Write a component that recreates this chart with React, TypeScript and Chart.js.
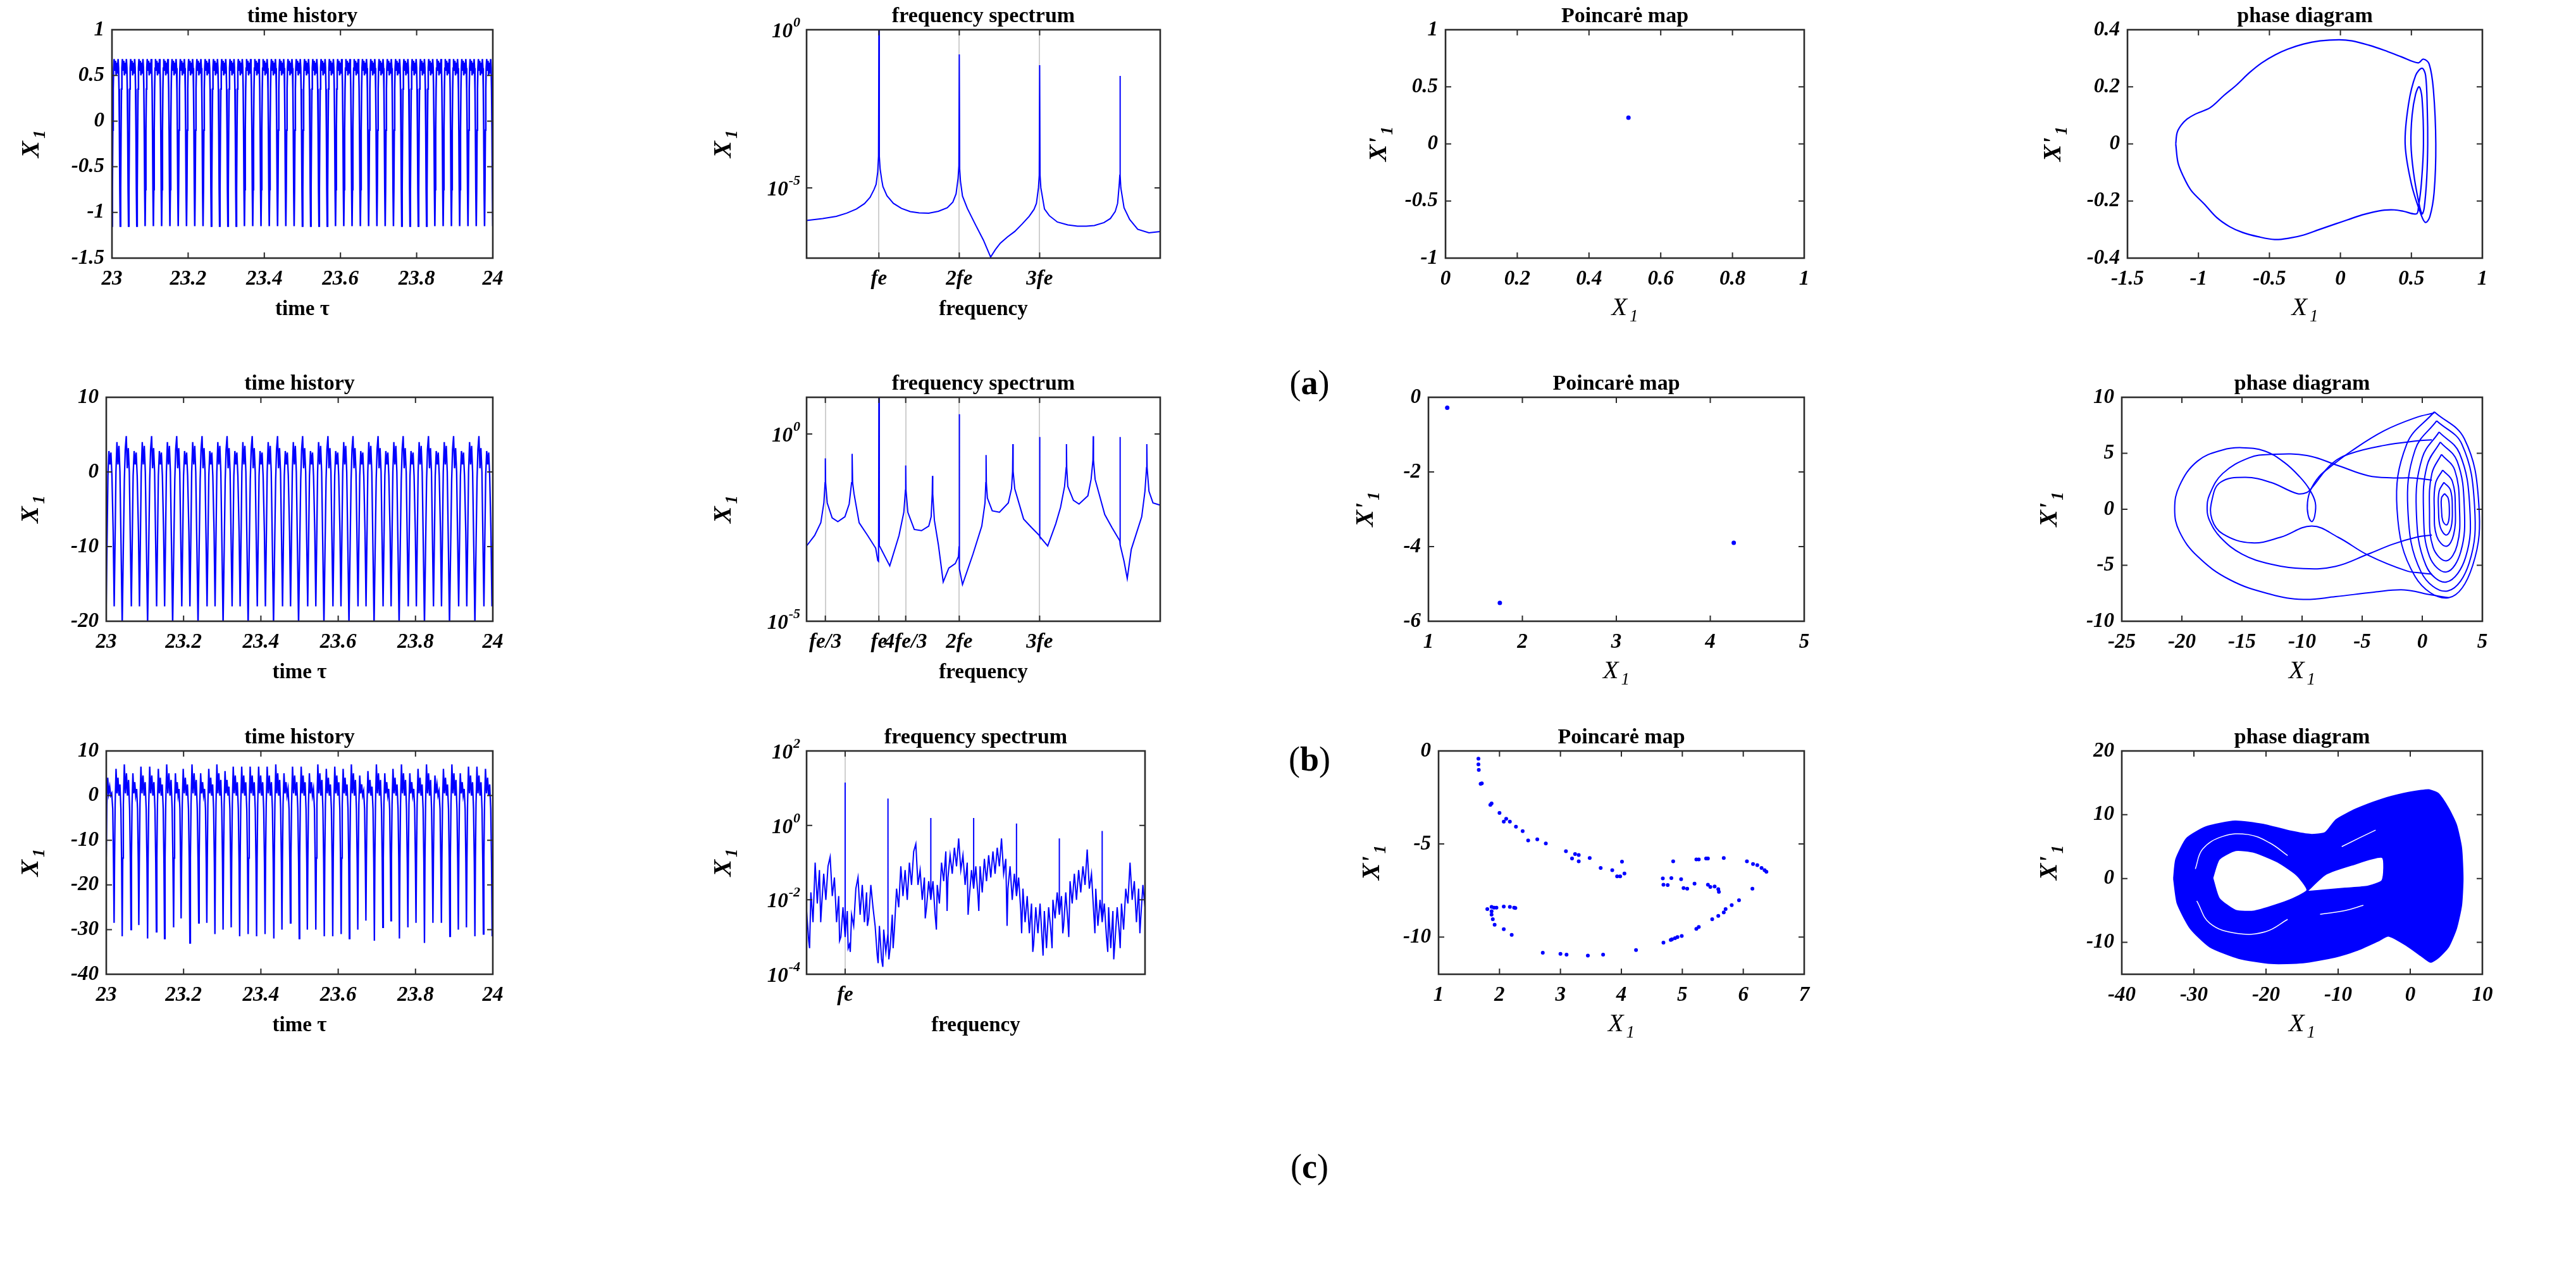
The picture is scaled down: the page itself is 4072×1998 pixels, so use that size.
import React, { useEffect, useRef } from "react";
import { Chart, registerables } from "chart.js";

Chart.register(...registerables);

const BLUE = "#0000ff";
const SERIF = '"Liberation Serif", "Times New Roman", Times, serif';
const AXIS_COLOR = "#2b2b2b";

/* ===================== shared ticks ===================== */
const timeTicks = [23, 23.2, 23.4, 23.6, 23.8, 24];
const timeTickLabels = ["23", "23.2", "23.4", "23.6", "23.8", "24"];

/* ===================== (a) time history ===================== */
const thATroughTimes = [23.0, 23.0217, 23.0435, 23.0652, 23.087, 23.1087, 23.1304, 23.1522, 23.1739, 23.1957, 23.2174, 23.2391, 23.2609, 23.2826, 23.3043, 23.3261, 23.3478, 23.3696, 23.3913, 23.413, 23.4348, 23.4565, 23.4783, 23.5, 23.5217, 23.5435, 23.5652, 23.587, 23.6087, 23.6304, 23.6522, 23.6739, 23.6957, 23.7174, 23.7391, 23.7609, 23.7826, 23.8043, 23.8261, 23.8478, 23.8696, 23.8913, 23.913, 23.9348, 23.9565, 23.9783, 24.0];
const thACycleFrac = [0, 0.05, 0.1, 0.15, 0.2, 0.26, 0.34, 0.42, 0.5, 0.58, 0.66, 0.74, 0.8, 0.85, 0.9, 0.95];
const thACycleVal = [-1.15, -0.75, -0.1, 0.35, 0.58, 0.68, 0.55, 0.66, 0.5, 0.64, 0.52, 0.68, 0.58, 0.35, -0.1, -0.75];

/* ===================== (a) spectrum ===================== */
const specAFreq = [0.1, 0.3, 0.47, 0.6, 0.72, 0.82, 0.89, 0.94, 0.965, 0.985, 0.995, 1.0, 1.005, 1.015, 1.035, 1.05, 1.1, 1.18, 1.28, 1.39, 1.5, 1.62, 1.74, 1.85, 1.92, 1.96, 1.985, 1.995, 2.0, 2.005, 2.015, 2.04, 2.1, 2.2, 2.3, 2.39, 2.45, 2.51, 2.6, 2.69, 2.78, 2.87, 2.93, 2.96, 2.985, 2.995, 3.0, 3.005, 3.015, 3.06, 3.12, 3.22, 3.35, 3.47, 3.58, 3.68, 3.8, 3.88, 3.94, 3.97, 3.99, 3.997, 4.0, 4.003, 4.01, 4.05, 4.12, 4.22, 4.36, 4.5];
const specAExp = [-6.03, -5.97, -5.9, -5.8, -5.67, -5.5, -5.3, -5.05, -4.89, -4.5, -4.0, 0.0, -4.0, -4.4, -4.75, -4.96, -5.25, -5.49, -5.65, -5.75, -5.79, -5.8, -5.74, -5.63, -5.45, -5.19, -4.7, -4.3, -0.78, -4.4, -4.8, -5.26, -5.65, -6.16, -6.65, -7.19, -6.95, -6.75, -6.55, -6.38, -6.15, -5.9, -5.68, -5.49, -5.0, -4.6, -1.12, -4.6, -5.0, -5.67, -5.88, -6.08, -6.17, -6.21, -6.21, -6.19, -6.1, -5.97, -5.75, -5.49, -4.9, -4.6, -1.46, -4.6, -5.0, -5.63, -6.0, -6.31, -6.42, -6.38];

/* ===================== (a) Poincaré ===================== */
const poincA = [[0.51, 0.23]];

/* ===================== (a) phase ===================== */
const phaseA = [
  [-1.16, 0.0], [-1.15, 0.04], [-1.121, 0.066], [-1.08, 0.087], [-1.02, 0.105], [-0.917, 0.127], [-0.82, 0.17], [-0.735, 0.205], [-0.64, 0.25], [-0.554, 0.284], [-0.46, 0.312], [-0.372, 0.332], [-0.26, 0.35], [-0.145, 0.361], [-0.009, 0.365], [0.082, 0.361], [0.2, 0.346], [0.309, 0.328], [0.43, 0.305], [0.547, 0.284],
  [0.585, 0.297], [0.625, 0.28], [0.655, 0.19], [0.672, 0.0], [0.66, -0.17], [0.63, -0.255], [0.6, -0.275], [0.57, -0.25], [0.5, -0.14], [0.456, 0.0], [0.48, 0.14], [0.53, 0.24], [0.575, 0.265],
  [0.6, 0.24], [0.612, 0.12], [0.615, 0.0], [0.608, -0.12], [0.59, -0.225], [0.575, -0.245], [0.55, -0.2], [0.515, -0.1], [0.497, 0.0], [0.505, 0.1], [0.53, 0.175], [0.555, 0.2],
  [0.575, 0.16], [0.585, 0.0], [0.57, -0.14], [0.55, -0.22], [0.536, -0.245],
  [0.445, -0.236], [0.38, -0.231], [0.309, -0.232], [0.22, -0.24], [0.15, -0.249], [0.05, -0.266], [-0.034, -0.28], [-0.15, -0.3], [-0.259, -0.319], [-0.36, -0.33], [-0.463, -0.335], [-0.58, -0.325], [-0.69, -0.31], [-0.78, -0.29], [-0.871, -0.258], [-0.96, -0.21], [-1.053, -0.162], [-1.11, -0.11], [-1.144, -0.066], [-1.16, 0.0],
];

/* ===================== (b) time history ===================== */
const thBGroupStarts = [22.9764, 23.0412, 23.1069, 23.1717, 23.2374, 23.3022, 23.367, 23.4327, 23.4975, 23.5631, 23.6279, 23.6928, 23.7576, 23.8232, 23.888, 23.9537, 24.0185];
const thBGroupFrac = [0, 0.045, 0.085, 0.12, 0.16, 0.2, 0.24, 0.28, 0.32, 0.36, 0.4, 0.43, 0.47, 0.51, 0.55, 0.59, 0.64, 0.68, 0.72, 0.75, 0.79, 0.83, 0.87, 0.91, 0.955];
const thBGroupVal = [-20.5, -10, -1, 3.0, 4.8, 0.5, 3.2, 0.0, -9, -18, -8, -0.5, 2.8, 1.0, 2.6, -0.5, -8, -18, -8, 0.0, 4.0, 1.0, 3.5, 0.0, -10];

/* ===================== (b) spectrum ===================== */
const specBFreq = [0.1, 0.2, 0.277, 0.315, 0.33, 0.3333, 0.337, 0.357, 0.418, 0.489, 0.577, 0.63, 0.66, 0.6667, 0.673, 0.69, 0.754, 0.86, 0.96, 0.986, 0.995, 1.0, 1.005, 1.01, 1.135, 1.25, 1.31, 1.33, 1.3333, 1.337, 1.36, 1.44, 1.53, 1.62, 1.65, 1.663, 1.6667, 1.67, 1.69, 1.74, 1.8, 1.87, 1.95, 1.99, 1.997, 2.0, 2.003, 2.04, 2.17, 2.28, 2.32, 2.33, 2.3333, 2.337, 2.35, 2.41, 2.5, 2.61, 2.65, 2.663, 2.6667, 2.67, 2.69, 2.8, 2.9, 2.997, 3.0, 3.003, 3.1, 3.2, 3.26, 3.31, 3.33, 3.3333, 3.337, 3.35, 3.42, 3.49, 3.6, 3.64, 3.663, 3.6667, 3.67, 3.69, 3.81, 3.9, 3.997, 4.0, 4.003, 4.05, 4.09, 4.14, 4.27, 4.31, 4.33, 4.3333, 4.337, 4.36, 4.41, 4.5];
const specBExp = [-2.99, -2.71, -2.37, -1.84, -1.3, -0.65, -1.3, -1.84, -2.24, -2.34, -2.21, -1.87, -1.3, -0.53, -1.3, -1.59, -2.37, -2.71, -3.05, -3.38, -3.4, 1.0, -2.99, -3.0, -3.52, -2.71, -2.09, -1.5, -0.84, -1.5, -2.09, -2.55, -2.58, -2.46, -2.21, -1.6, -1.12, -1.6, -2.3, -2.96, -3.95, -3.58, -3.46, -3.27, -3.0, 0.53, -3.6, -4.02, -3.21, -2.46, -1.84, -1.3, -0.56, -1.3, -1.71, -2.05, -2.09, -1.84, -1.46, -1.0, -0.27, -1.0, -1.46, -2.27, -2.5, -2.71, -0.08, -2.74, -2.99, -2.4, -1.96, -1.4, -0.9, -0.27, -0.9, -1.4, -1.77, -1.87, -1.65, -1.21, -0.7, -0.06, -0.7, -1.21, -2.15, -2.5, -2.85, -0.08, -2.96, -3.4, -3.86, -3.08, -2.21, -1.53, -0.9, -0.27, -0.9, -1.53, -1.84, -1.9];

/* ===================== (b) Poincaré ===================== */
const poincB = [[1.2, -0.28], [1.76, -5.51], [4.25, -3.9]];

/* ===================== (b) phase ===================== */
const phaseBOuter = [[2.2, -7.9], [0.5, -7.6], [-1.5, -7.2], [-4.0, -7.4], [-7.2, -7.8], [-9.9, -8.05], [-12.6, -7.6], [-16.0, -6.3], [-18.7, -4.2], [-20.2, -2.0], [-20.6, 0.0], [-20.2, 2.1], [-18.7, 4.3], [-16.6, 5.3], [-15.0, 5.5], [-13.1, 5.2], [-11.5, 4.2], [-10.2, 2.9], [-9.4, 1.8], [-8.9, 0.6], [-8.95, -0.6], [-9.2, -1.1], [-9.5, -0.5], [-9.55, 0.6], [-9.3, 1.7], [-8.6, 2.9], [-7.75, 3.7], [-5.9, 5.2], [-3.2, 7.0], [-0.5, 8.2], [1.0, 8.6]];
const phaseBMid = [[0.8, -2.3], [-0.5, -2.5], [-2.4, -3.1], [-4.5, -4.0], [-7.2, -5.1], [-9.9, -5.3], [-12.6, -4.9], [-15.0, -4.0], [-16.8, -2.5], [-17.7, -1.0], [-17.9, 0.0], [-17.7, 1.3], [-16.6, 3.2], [-14.4, 4.6], [-12.6, 4.9], [-9.6, 4.8], [-7.0, 3.9], [-4.5, 3.0], [-2.4, 2.8], [-0.8, 2.8], [0.8, 2.6]];
const phaseBInner = [[0.8, -5.8], [0.0, -5.7], [-1.3, -5.5], [-4.5, -4.1], [-7.0, -2.5], [-9.2, -1.5], [-11.8, -2.5], [-14.2, -3.0], [-16.6, -2.2], [-17.5, -0.9], [-17.5, 0.8], [-16.8, 2.4], [-14.7, 2.85], [-12.6, 2.4], [-10.4, 1.4], [-9.6, 1.5], [-9.2, 1.9], [-7.5, 4.1], [-5.9, 5.0], [-3.2, 5.7], [-0.5, 6.1], [0.8, 6.2]];
const phaseBLoops = [
  [[1.0, 8.7], [3.5, 6.3], [4.7, 0.5], [4.2, -5.0], [2.2, -7.9], [-0.6, -6.0], [-2.1, 0], [-1.3, 5.8], [1.0, 8.7]],
  [[1.2, 7.9], [3.3, 5.8], [4.35, 0.3], [3.9, -4.8], [2.1, -7.3], [-0.1, -5.6], [-1.2, 0], [-0.6, 5.3], [1.2, 7.9]],
  [[1.4, 6.9], [3.1, 5.0], [3.95, 0.2], [3.6, -4.3], [2.0, -6.5], [0.3, -5.0], [-0.5, 0], [0.0, 4.6], [1.4, 6.9]],
  [[1.5, 6.0], [2.9, 4.3], [3.5, 0.1], [3.2, -3.8], [2.0, -5.6], [0.6, -4.2], [0.1, 0], [0.4, 3.9], [1.5, 6.0]],
  [[1.6, 4.9], [2.7, 3.5], [3.1, 0], [2.9, -3.2], [2.0, -4.6], [0.9, -3.4], [0.6, 0], [0.8, 3.2], [1.6, 4.9]],
  [[1.7, 3.5], [2.5, 2.5], [2.75, 0], [2.6, -2.3], [2.0, -3.3], [1.2, -2.4], [1.0, 0], [1.1, 2.3], [1.7, 3.5]],
  [[1.8, 2.4], [2.35, 1.7], [2.5, 0], [2.4, -1.6], [2.0, -2.3], [1.5, -1.6], [1.35, 0], [1.4, 1.6], [1.8, 2.4]],
  [[1.85, 1.4], [2.15, 1.0], [2.25, 0], [2.2, -1.0], [2.0, -1.4], [1.7, -1.0], [1.6, 0], [1.6, 1.0], [1.85, 1.4]],
];

/* ===================== (c) time history ===================== */
const thCTroughTimes = [22.9985, 23.0202, 23.0412, 23.064, 23.0842, 23.1069, 23.1296, 23.1507, 23.1742, 23.1936, 23.2163, 23.2391, 23.2601, 23.2811, 23.3022, 23.3232, 23.3451, 23.367, 23.3889, 23.4108, 23.4335, 23.4545, 23.4764, 23.4992, 23.5202, 23.5421, 23.564, 23.5859, 23.6077, 23.6288, 23.6507, 23.6717, 23.6936, 23.7155, 23.7365, 23.7584, 23.7803, 23.8013, 23.8232, 23.8451, 23.867, 23.8889, 23.9108, 23.9318, 23.9537, 23.9756, 23.9983];
const thCTroughVals = [-28, -28.5, -31.5, -30, -29, -32, -30.5, -32, -29.5, -27.5, -33, -28.5, -28.5, -31, -30, -29.5, -31.5, -31, -31.5, -31, -32, -30, -28.5, -32, -30, -30, -31.5, -31.5, -31, -32, -30, -28, -32.5, -29.5, -28, -32, -29.5, -28.5, -33, -28.5, -28.5, -31.5, -30, -29.5, -31.5, -31, -31.5];
const thCPeakVals = [4, 6, 7, 5, 6.5, 6.5, 6, 7, 5, 6, 7, 5, 6, 7, 5.5, 6.5, 6.5, 6.5, 6.5, 6.5, 7, 5, 6.5, 6.5, 5, 7, 6, 6.5, 6, 7, 4.5, 5.5, 7, 5, 6, 7, 5, 6, 7, 4.5, 6, 7, 5, 6.5, 6.5, 6];
const thCShapeFrac = [0.06, 0.13, 0.24, 0.36, 0.48, 0.6, 0.72, 0.84, 0.93];
const thCShapeBase = [-14, -2, 0, 0.5, -2, 0, -3.5, -3, -15];
const thCShapeUsesPeak = [0, 0, 1, 0, 1, 0, 1, 0, 0];
const thCTail = [24.004, -13];

/* ===================== (c) spectrum ===================== */
const specCStart = 0.1;
const specCStep = 0.05;
const specCExp = [
  -2.3, -3.1, -1.8, -2.6, -1.0, -2.1, -1.2, -2.2, -1.3, -2.0, -1.1, -0.85, -1.9, -1.4, -2.6, -1.9, -3.0, -2.2,
  -3.0, -2.3, -3.2, -2.4, -2.7, -1.7, -1.4, -2.4, -1.6, -2.6, -1.8, -2.5, -1.6, -2.2, -2.7, -3.5, -2.7, -3.6, -2.8, -3.4,
  -2.9, -3.3, -2.4, -2.8, -1.7, -2.2, -1.1, -1.9, -1.2, -2.0, -1.0, -1.6, -0.7, -0.5, -1.6, -1.2, -2.0, -1.4, -2.2, -1.5,
  -2.0, -1.5, -2.4, -1.6, -2.1, -1.0, -1.5, -0.7, -1.4, -0.8, -1.3, -0.6, -1.1, -0.35, -1.2, -0.8, -1.6, -1.0, -1.9, -1.2,
  -1.7, -1.1, -1.9, -1.1, -1.8, -0.9, -1.5, -0.8, -1.4, -0.7, -1.3, -0.6, -1.1, -0.35, -1.3, -0.9, -1.7, -1.1, -2.0, -1.3,
  -1.9, -1.4, -2.3, -1.7, -2.6, -1.9, -2.9, -2.1, -3.2, -2.2, -2.9, -2.1, -3.1, -2.3, -3.3, -2.2, -2.8, -2.0, -2.5, -1.8,
  -2.4, -1.9, -2.7, -1.8, -2.6, -1.5, -2.1, -1.3, -2.0, -1.2, -1.8, -1.1, -1.6, -0.65, -1.7, -1.3, -2.3, -1.7, -2.7, -2.0,
  -2.6, -2.1, -3.0, -2.2, -3.3, -2.3, -3.1, -2.2, -2.9, -2.1, -2.8, -1.7, -2.1, -1.0, -2.0, -1.5, -2.6, -1.7, -2.5, -1.6,
  -2.2,
];
const specCSpikeFreq = [1, 2, 3, 4, 5, 6, 7, 8];
const specCSpikeExp = [1.15, 0.72, 0.2, 0.2, 0.05, -0.35, -0.15, -0.35];
const specCDipFreq = [0.17, 0.43, 0.87, 1.07, 1.12, 1.52, 1.77, 1.88, 2.02, 2.12, 2.87, 3.13, 3.38, 3.87, 4.12, 4.78, 5.12, 5.38, 5.62, 5.83, 6.08, 6.22, 6.83, 7.13, 7.27, 7.42, 7.88];
const specCDipExp = [-3.3, -2.6, -3.1, -3.3, -3.4, -2.7, -3.7, -3.8, -3.6, -3.3, -2.5, -2.8, -2.3, -2.4, -2.3, -2.7, -2.9, -3.4, -3.5, -3.3, -2.9, -3.0, -2.9, -3.4, -3.6, -3.3, -2.9];

/* ===================== (c) Poincaré ===================== */
const poincC = [
  [1.654, -0.42], [1.654, -0.72], [1.66, -1.02], [1.69, -1.77], [1.71, -1.74], [1.85, -2.9], [1.87, -2.82], [2.0, -3.33], [2.07, -3.8], [2.11, -3.65], [2.17, -3.8], [2.27, -4.07], [2.38, -4.31], [2.47, -4.81], [2.62, -4.75], [2.76, -4.97], [3.09, -5.39], [3.24, -5.54], [3.3, -5.59], [3.19, -5.78], [3.3, -5.93], [3.48, -5.75], [3.66, -6.29], [3.85, -6.41], [3.93, -6.74], [3.98, -6.74], [4.01, -5.95], [4.05, -6.59],
  [4.68, -6.85], [4.69, -7.19], [4.76, -7.21], [4.82, -6.83], [4.85, -5.93], [4.98, -6.89], [5.02, -7.37], [5.08, -7.4], [5.2, -7.13], [5.23, -5.83], [5.27, -5.83], [5.39, -5.78], [5.42, -5.78], [5.42, -7.19], [5.46, -7.31], [5.53, -7.28], [5.59, -7.43], [5.6, -7.57], [5.68, -5.75],
  [6.06, -5.93], [6.16, -6.08], [6.23, -6.14], [6.3, -6.29], [6.35, -6.41], [6.38, -6.49], [6.15, -7.4], [5.93, -8.02], [5.81, -8.29], [5.71, -8.5], [5.68, -8.68], [5.59, -8.86], [5.49, -9.04], [5.27, -9.46], [5.23, -9.56], [4.99, -9.94], [4.92, -10.0], [4.88, -10.06], [4.83, -10.12], [4.81, -10.16], [4.69, -10.3],
  [1.8, -8.5], [1.87, -8.38], [1.91, -8.42], [1.95, -8.42], [1.87, -8.62], [1.87, -8.8], [1.89, -9.04], [1.92, -9.34], [2.07, -9.58], [2.07, -8.36], [2.17, -8.38], [2.24, -8.42], [2.26, -8.44], [2.2, -9.88], [2.71, -10.84], [3.0, -10.9], [3.1, -10.95], [3.45, -11.0], [3.7, -10.95], [4.24, -10.7],
];

/* ===================== (c) phase ===================== */
const phaseCOuter = [[-32.8, 0], [-32.5, 3.0], [-31, 6.3], [-28.3, 8.1], [-24.3, 9.0], [-20.5, 8.5], [-16.5, 7.4], [-13.8, 6.9], [-11.8, 7.2], [-10.3, 9.2], [-7.5, 10.9], [-4, 12.4], [-1.0, 13.3], [1.5, 13.8], [2.6, 13.9], [3.9, 13.3], [5.3, 11.0], [6.4, 8.4], [7.1, 4.8], [7.3, 0], [7.1, -4.2], [6.4, -7.8], [5.3, -10.7], [3.9, -12.4], [2.8, -13.1], [1.5, -12.1], [-0.5, -10.5], [-3.0, -9.0], [-4.5, -9.8], [-7.5, -11.3], [-10.4, -12.3], [-14.9, -13.2], [-19.3, -13.3], [-23.8, -12.5], [-27.8, -10.7], [-30.5, -7.8], [-32.3, -3.9], [-32.8, 0]];
const phaseCHole = [[-27.4, 0.1], [-26.5, 3.0], [-24.2, 4.4], [-21.6, 4.1], [-18.4, 2.6], [-15.7, 0.5], [-14.3, -1.8], [-15.8, -2.9], [-18, -3.9], [-21.6, -5.1], [-24.2, -5.0], [-26.5, -3.1], [-27.4, 0.1]];
const phaseCNotch = [[-14.3, -2.0], [-11.7, 0.65], [-8.1, 2.1], [-3.9, 3.3], [-3.9, -0.25], [-5.9, -1.2], [-9, -1.5], [-12, -1.8], [-14.3, -2.0]];
const phaseCStripes = [
  [[-29.8, 1.5], [-28.8, 4.6], [-26, 6.6], [-22.5, 6.9], [-19.5, 5.6], [-17, 3.6]],
  [[-29.6, -3.5], [-27.8, -7.0], [-24, -8.6], [-20, -8.3], [-17, -6.4]],
  [[-9.5, 5.0], [-7, 6.4], [-4.8, 7.6]],
  [[-12.5, -5.6], [-9, -5.0], [-6.5, -4.2]],
];

/* ===================== builders ===================== */
type XY = { x: number; y: number };
const pairs = (p: number[][]): XY[] => p.map(([x, y]) => ({ x, y }));
const expPairs = (fs: number[], es: number[]): XY[] => fs.map((f, i) => ({ x: f, y: Math.pow(10, es[i]) }));

function repeatCycles(starts: number[], frac: number[], vals: number[], closeVal: number): XY[] {
  const out: XY[] = [];
  for (let i = 0; i < starts.length - 1; i++) {
    const t0 = starts[i];
    const t1 = starts[i + 1];
    for (let j = 0; j < frac.length; j++) out.push({ x: t0 + frac[j] * (t1 - t0), y: vals[j] });
  }
  out.push({ x: starts[starts.length - 1], y: closeVal });
  return out;
}

function chaoticSeries(): XY[] {
  const out: XY[] = [];
  const n = thCTroughTimes.length;
  for (let i = 0; i < n - 1; i++) {
    const t0 = thCTroughTimes[i];
    const t1 = thCTroughTimes[i + 1];
    out.push({ x: t0, y: thCTroughVals[i] });
    for (let j = 0; j < thCShapeFrac.length; j++) {
      const v = thCShapeUsesPeak[j] ? thCPeakVals[i] + thCShapeBase[j] : thCShapeBase[j];
      out.push({ x: t0 + thCShapeFrac[j] * (t1 - t0), y: v });
    }
  }
  out.push({ x: thCTroughTimes[n - 1], y: thCTroughVals[n - 1] });
  out.push({ x: thCTail[0], y: thCTail[1] });
  return out;
}

function spectrumC(): XY[] {
  const out: XY[] = [];
  specCExp.forEach((e, i) => {
    const f = +(specCStart + i * specCStep).toFixed(2);
    out.push({ x: f, y: Math.pow(10, e) });
    const k = specCSpikeFreq.findIndex((s) => Math.abs(s - f) < 1e-6);
    if (k >= 0) {
      out.push({ x: f, y: Math.pow(10, specCSpikeExp[k]) });
      out.push({ x: f, y: Math.pow(10, e) });
    }
  });
  specCDipFreq.forEach((f, i) => out.push({ x: f, y: Math.pow(10, specCDipExp[i]) }));
  return out.sort((p, q) => p.x - q.x);
}

const lineDS = (data: XY[], width = 2, tension = 0) => ({
  data, showLine: true, borderColor: BLUE, backgroundColor: BLUE, borderWidth: width,
  pointRadius: 0, pointHoverRadius: 0, fill: false, tension, clip: 1,
});
const dotDS = (data: XY[], r: number) => ({
  data, showLine: false, pointRadius: r, pointHoverRadius: r, pointBackgroundColor: BLUE,
  pointBorderColor: BLUE, pointBorderWidth: 0, clip: 4,
});
const shapeDS = (data: XY[], fillColor: string, stroke: string, width: number) => ({
  data, showLine: true, fill: "shape", backgroundColor: fillColor, borderColor: stroke, borderWidth: width,
  pointRadius: 0, pointHoverRadius: 0, tension: 0.2, clip: 1,
});

/* ===================== layout ===================== */
const PAD_L = 220, PAD_T = 80, PAD_R = 50, PAD_B = 140;
const ROW_A = [47, 408], ROW_B = [628, 982], ROW_C = [1187, 1540];

interface LabelSpec { text: string; sub?: string; italic?: boolean; bold?: boolean }
interface PanelSpec {
  id: string; box: number[];
  xMin: number; xMax: number; xTicks: number[]; xTickLabels: string[]; xGrid?: boolean;
  yMin: number; yMax: number; yTicks: number[]; yTickLabels: string[]; yLog?: boolean;
  title: string; xLabel: LabelSpec; yLabel: LabelSpec; yLabelOffset: number; datasets: any[];
}

const LBL_TIME: LabelSpec = { text: "time τ", bold: true };
const LBL_FREQ: LabelSpec = { text: "frequency", bold: true };
const LBL_X1: LabelSpec = { text: "X", sub: "1", italic: true };
const LBL_Y_X1: LabelSpec = { text: "X", sub: "1", italic: true, bold: true };
const LBL_Y_DX1: LabelSpec = { text: "X'", sub: "1", italic: true, bold: true };

const logTicks = (exps: number[]) => exps.map((e) => Math.pow(10, e));

const PANELS: PanelSpec[] = [
  // ---------- row (a) ----------
  {
    id: "a1", box: [177, ROW_A[0], 779, ROW_A[1]],
    xMin: 23, xMax: 24, xTicks: timeTicks, xTickLabels: timeTickLabels,
    yMin: -1.5, yMax: 1, yTicks: [-1.5, -1, -0.5, 0, 0.5, 1], yTickLabels: ["-1.5", "-1", "-0.5", "0", "0.5", "1"],
    title: "time history", xLabel: LBL_TIME, yLabel: LBL_Y_X1, yLabelOffset: 128,
    datasets: [lineDS(repeatCycles(thATroughTimes, thACycleFrac, thACycleVal, -1.15), 2.5)],
  },
  {
    id: "a2", box: [1275, ROW_A[0], 1834, ROW_A[1]],
    xMin: 0.1, xMax: 4.5, xTicks: [1, 2, 3], xTickLabels: ["fe", "2fe", "3fe"], xGrid: true,
    yMin: Math.pow(10, -7.19), yMax: 1, yTicks: logTicks([-5, 0]), yTickLabels: ["-5", "0"], yLog: true,
    title: "frequency spectrum", xLabel: LBL_FREQ, yLabel: LBL_Y_X1, yLabelOffset: 132,
    datasets: [lineDS(expPairs(specAFreq, specAExp), 2)],
  },
  {
    id: "a3", box: [2285, ROW_A[0], 2852, ROW_A[1]],
    xMin: 0, xMax: 1, xTicks: [0, 0.2, 0.4, 0.6, 0.8, 1], xTickLabels: ["0", "0.2", "0.4", "0.6", "0.8", "1"],
    yMin: -1, yMax: 1, yTicks: [-1, -0.5, 0, 0.5, 1], yTickLabels: ["-1", "-0.5", "0", "0.5", "1"],
    title: "Poincarė map", xLabel: LBL_X1, yLabel: LBL_Y_DX1, yLabelOffset: 106,
    datasets: [dotDS(pairs(poincA), 3.5)],
  },
  {
    id: "a4", box: [3363, ROW_A[0], 3924, ROW_A[1]],
    xMin: -1.5, xMax: 1, xTicks: [-1.5, -1, -0.5, 0, 0.5, 1], xTickLabels: ["-1.5", "-1", "-0.5", "0", "0.5", "1"],
    yMin: -0.4, yMax: 0.4, yTicks: [-0.4, -0.2, 0, 0.2, 0.4], yTickLabels: ["-0.4", "-0.2", "0", "0.2", "0.4"],
    title: "phase diagram", xLabel: LBL_X1, yLabel: LBL_Y_DX1, yLabelOffset: 118,
    datasets: [lineDS(pairs(phaseA), 2.2, 0.35)],
  },
  // ---------- row (b) ----------
  {
    id: "b1", box: [168, ROW_B[0], 779, ROW_B[1]],
    xMin: 23, xMax: 24, xTicks: timeTicks, xTickLabels: timeTickLabels,
    yMin: -20, yMax: 10, yTicks: [-20, -10, 0, 10], yTickLabels: ["-20", "-10", "0", "10"],
    title: "time history", xLabel: LBL_TIME, yLabel: LBL_Y_X1, yLabelOffset: 120,
    datasets: [lineDS(repeatCycles(thBGroupStarts, thBGroupFrac, thBGroupVal, -20.5), 2.3)],
  },
  {
    id: "b2", box: [1275, ROW_B[0], 1834, ROW_B[1]],
    xMin: 0.1, xMax: 4.5, xTicks: [1 / 3, 1, 4 / 3, 2, 3], xTickLabels: ["fe/3", "fe", "4fe/3", "2fe", "3fe"], xGrid: true,
    yMin: 1e-5, yMax: Math.pow(10, 0.98), yTicks: logTicks([-5, 0]), yTickLabels: ["-5", "0"], yLog: true,
    title: "frequency spectrum", xLabel: LBL_FREQ, yLabel: LBL_Y_X1, yLabelOffset: 132,
    datasets: [lineDS(expPairs(specBFreq, specBExp), 2)],
  },
  {
    id: "b3", box: [2258, ROW_B[0], 2852, ROW_B[1]],
    xMin: 1, xMax: 5, xTicks: [1, 2, 3, 4, 5], xTickLabels: ["1", "2", "3", "4", "5"],
    yMin: -6, yMax: 0, yTicks: [-6, -4, -2, 0], yTickLabels: ["-6", "-4", "-2", "0"],
    title: "Poincarė map", xLabel: LBL_X1, yLabel: LBL_Y_DX1, yLabelOffset: 100,
    datasets: [dotDS(pairs(poincB), 3.5)],
  },
  {
    id: "b4", box: [3354, ROW_B[0], 3924, ROW_B[1]],
    xMin: -25, xMax: 5, xTicks: [-25, -20, -15, -10, -5, 0, 5], xTickLabels: ["-25", "-20", "-15", "-10", "-5", "0", "5"],
    yMin: -10, yMax: 10, yTicks: [-10, -5, 0, 5, 10], yTickLabels: ["-10", "-5", "0", "5", "10"],
    title: "phase diagram", xLabel: LBL_X1, yLabel: LBL_Y_DX1, yLabelOffset: 115,
    datasets: [
      lineDS(pairs(phaseBOuter), 2, 0.4),
      lineDS(pairs(phaseBMid), 2, 0.4),
      lineDS(pairs(phaseBInner), 2, 0.4),
      ...phaseBLoops.map((l) => lineDS(pairs(l), 2, 0.4)),
    ],
  },
  // ---------- row (c) ----------
  {
    id: "c1", box: [168, ROW_C[0], 779, ROW_C[1]],
    xMin: 23, xMax: 24, xTicks: timeTicks, xTickLabels: timeTickLabels,
    yMin: -40, yMax: 10, yTicks: [-40, -30, -20, -10, 0, 10], yTickLabels: ["-40", "-30", "-20", "-10", "0", "10"],
    title: "time history", xLabel: LBL_TIME, yLabel: LBL_Y_X1, yLabelOffset: 120,
    datasets: [lineDS(chaoticSeries(), 2.3)],
  },
  {
    id: "c2", box: [1275, ROW_C[0], 1810, ROW_C[1]],
    xMin: 0.1, xMax: 8, xTicks: [1], xTickLabels: ["fe"], xGrid: true,
    yMin: 1e-4, yMax: 100, yTicks: logTicks([-4, -2, 0, 2]), yTickLabels: ["-4", "-2", "0", "2"], yLog: true,
    title: "frequency spectrum", xLabel: LBL_FREQ, yLabel: LBL_Y_X1, yLabelOffset: 132,
    datasets: [lineDS(spectrumC(), 2)],
  },
  {
    id: "c3", box: [2274, ROW_C[0], 2852, ROW_C[1]],
    xMin: 1, xMax: 7, xTicks: [1, 2, 3, 4, 5, 6, 7], xTickLabels: ["1", "2", "3", "4", "5", "6", "7"],
    yMin: -12, yMax: 0, yTicks: [-10, -5, 0], yTickLabels: ["-10", "-5", "0"],
    title: "Poincarė map", xLabel: LBL_X1, yLabel: LBL_Y_DX1, yLabelOffset: 106,
    datasets: [dotDS(pairs(poincC), 3)],
  },
  {
    id: "c4", box: [3354, ROW_C[0], 3924, ROW_C[1]],
    xMin: -40, xMax: 10, xTicks: [-40, -30, -20, -10, 0, 10], xTickLabels: ["-40", "-30", "-20", "-10", "0", "10"],
    yMin: -15, yMax: 20, yTicks: [-10, 0, 10, 20], yTickLabels: ["-10", "0", "10", "20"],
    title: "phase diagram", xLabel: LBL_X1, yLabel: LBL_Y_DX1, yLabelOffset: 115,
    datasets: [
      ...phaseCStripes.map((s) => ({ ...lineDS(pairs(s), 1.5, 0.4), borderColor: "#ffffff" })),
      shapeDS(pairs(phaseCNotch), "#ffffff", BLUE, 1.5),
      shapeDS(pairs(phaseCHole), "#ffffff", BLUE, 2),
      shapeDS(pairs(phaseCOuter), BLUE, BLUE, 2),
    ],
  },
];

const CAPTIONS = [
  { letter: "a", x: 2070, y: 605 },
  { letter: "b", x: 2070, y: 1200 },
  { letter: "c", x: 2070, y: 1844 },
];

/* ===================== drawing helpers ===================== */
function drawLabel(ctx: CanvasRenderingContext2D, lab: LabelSpec, cx: number, base: number) {
  const size = lab.sub ? 40 : 33;
  const style = `${lab.italic ? "italic " : ""}${lab.bold ? "bold " : ""}`;
  const mainFont = `${style}${size}px ${SERIF}`;
  const subFont = `${style}${Math.round(size * 0.68)}px ${SERIF}`;
  ctx.font = mainFont;
  const w1 = ctx.measureText(lab.text).width;
  let w2 = 0;
  if (lab.sub) {
    ctx.font = subFont;
    w2 = ctx.measureText(lab.sub).width + 4;
  }
  const x0 = cx - (w1 + w2) / 2;
  ctx.textAlign = "left";
  ctx.textBaseline = "alphabetic";
  ctx.fillStyle = "#000";
  ctx.font = mainFont;
  ctx.fillText(lab.text, x0, base);
  if (lab.sub) {
    ctx.font = subFont;
    ctx.fillText(lab.sub, x0 + w1 + 4, base + 10);
  }
}

function decorPlugin(p: PanelSpec) {
  return {
    id: "decor_" + p.id,
    afterDraw(chart: any) {
      const ctx: CanvasRenderingContext2D = chart.ctx;
      const a = chart.chartArea;
      const xs = chart.scales.x;
      const ys = chart.scales.y;
      ctx.save();
      // inner ticks on all four sides
      ctx.strokeStyle = AXIS_COLOR;
      ctx.lineWidth = 2;
      const TL = 9;
      ctx.beginPath();
      p.xTicks.forEach((v) => {
        const px = xs.getPixelForValue(v);
        ctx.moveTo(px, a.bottom); ctx.lineTo(px, a.bottom - TL);
        ctx.moveTo(px, a.top); ctx.lineTo(px, a.top + TL);
      });
      p.yTicks.forEach((v) => {
        const py = ys.getPixelForValue(v);
        ctx.moveTo(a.left, py); ctx.lineTo(a.left + TL, py);
        ctx.moveTo(a.right, py); ctx.lineTo(a.right - TL, py);
      });
      ctx.stroke();
      // box
      ctx.lineWidth = 2.6;
      ctx.strokeRect(a.left, a.top, a.right - a.left, a.bottom - a.top);
      // log tick labels with superscripts
      if (p.yLog) {
        p.yTickLabels.forEach((e, i) => {
          const py = ys.getPixelForValue(p.yTicks[i]);
          const small = `italic bold 22px ${SERIF}`;
          const big = `italic bold 33px ${SERIF}`;
          ctx.font = small;
          const ws = ctx.measureText(e).width;
          ctx.font = big;
          const wb = ctx.measureText("10").width;
          const right = a.left - 10;
          ctx.fillStyle = "#000";
          ctx.textAlign = "left";
          ctx.textBaseline = "alphabetic";
          ctx.fillText("10", right - ws - wb - 1, py + 12);
          ctx.font = small;
          ctx.fillText(e, right - ws, py - 5);
        });
      }
      // title
      ctx.fillStyle = "#000";
      ctx.font = `bold 34px ${SERIF}`;
      ctx.textAlign = "center";
      ctx.textBaseline = "alphabetic";
      ctx.fillText(p.title, (a.left + a.right) / 2, a.top - 12);
      // x label
      drawLabel(ctx, p.xLabel, (a.left + a.right) / 2, a.bottom + 90);
      // y label
      ctx.save();
      ctx.translate(a.left - p.yLabelOffset, (a.top + a.bottom) / 2);
      ctx.rotate(-Math.PI / 2);
      drawLabel(ctx, p.yLabel, 0, 12);
      ctx.restore();
      ctx.restore();
    },
  };
}

const tickFont = { family: SERIF, size: 33, style: "italic" as const, weight: "bold" as const };

function makeConfig(p: PanelSpec): any {
  return {
    type: "scatter",
    data: { datasets: p.datasets },
    options: {
      responsive: false,
      maintainAspectRatio: false,
      animation: false,
      devicePixelRatio: 1,
      events: [],
      layout: { padding: { top: PAD_T, right: PAD_R, left: 0, bottom: 0 } },
      plugins: { legend: { display: false }, tooltip: { enabled: false }, title: { display: false } },
      scales: {
        x: {
          type: "linear",
          min: p.xMin,
          max: p.xMax,
          afterBuildTicks: (s: any) => { s.ticks = p.xTicks.map((v) => ({ value: v })); },
          afterFit: (s: any) => { s.height = PAD_B; },
          ticks: {
            callback: (_v: any, i: number) => p.xTickLabels[i],
            font: tickFont, color: "#000", padding: 14, maxRotation: 0, minRotation: 0, autoSkip: false,
          },
          grid: { display: !!p.xGrid, drawOnChartArea: true, drawTicks: false, color: "#cfcfcf", lineWidth: 2 },
          border: { display: false },
        },
        y: {
          type: p.yLog ? "logarithmic" : "linear",
          min: p.yMin,
          max: p.yMax,
          afterBuildTicks: (s: any) => { s.ticks = p.yTicks.map((v) => ({ value: v })); },
          afterFit: (s: any) => { s.width = PAD_L; },
          ticks: {
            display: !p.yLog,
            callback: (_v: any, i: number) => p.yTickLabels[i],
            font: tickFont, color: "#000", padding: 12, autoSkip: false,
          },
          grid: { display: false, drawTicks: false },
          border: { display: false },
        },
      },
    },
    plugins: [decorPlugin(p)],
  };
}

function Panel({ spec }: { spec: PanelSpec }) {
  const ref = useRef<HTMLCanvasElement>(null);
  const [L, T, R, B] = spec.box;
  const w = R - L + PAD_L + PAD_R;
  const h = B - T + PAD_T + PAD_B;
  useEffect(() => {
    if (!ref.current) return;
    const chart = new Chart(ref.current, makeConfig(spec));
    return () => chart.destroy();
  }, [spec]);
  return (
    <canvas
      ref={ref}
      width={w}
      height={h}
      style={{ position: "absolute", left: L - PAD_L, top: T - PAD_T, width: w, height: h }}
    />
  );
}

export default function App() {
  return (
    <div style={{ position: "absolute", left: 0, top: 0, width: 4072, height: 1998, background: "#ffffff", overflow: "hidden" }}>
      {PANELS.map((p) => (
        <Panel key={p.id} spec={p} />
      ))}
      {CAPTIONS.map((c) => (
        <div
          key={c.letter}
          style={{
            position: "absolute", left: c.x - 80, top: c.y - 34, width: 160, textAlign: "center",
            fontFamily: SERIF, fontSize: 54, lineHeight: "68px", color: "#000",
          }}
        >
          (<b>{c.letter}</b>)
        </div>
      ))}
    </div>
  );
}
